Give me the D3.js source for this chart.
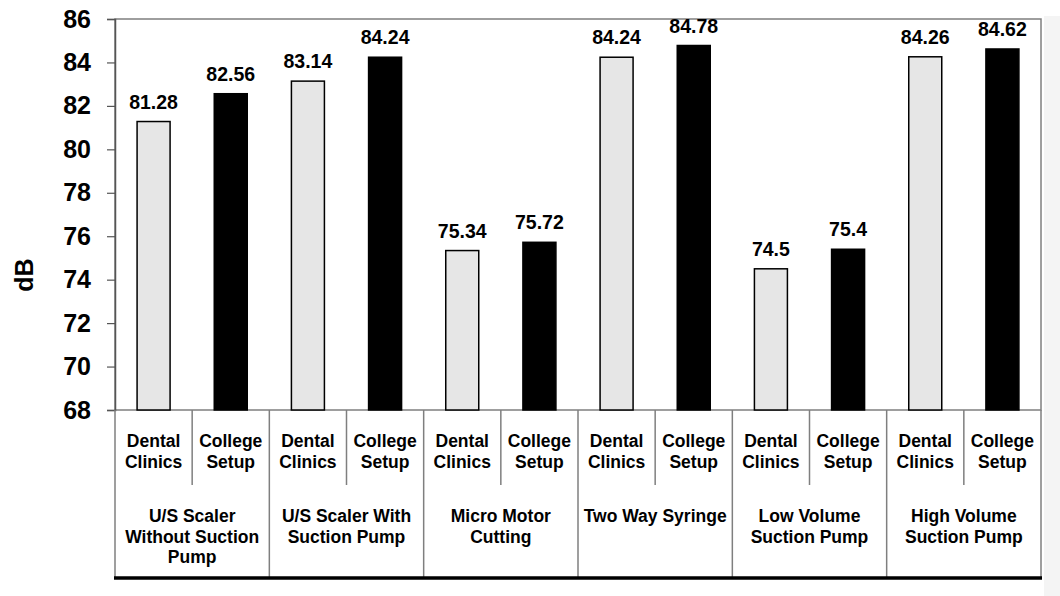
<!DOCTYPE html>
<html>
<head>
<meta charset="utf-8">
<script src="https://cdn.jsdelivr.net/npm/d3@7"></script>
<style>
  body { margin: 0; background: #fff; }
  text { font-family: "Liberation Sans", Arial, sans-serif; font-weight: bold; fill: #000; }
</style>
</head>
<body>
<svg width="1060" height="596"></svg>
<script>
// data
const categories = [
  ["U/S Scaler", "Without Suction", "Pump"],
  ["U/S Scaler With", "Suction Pump"],
  ["Micro Motor", "Cutting"],
  ["Two Way Syringe"],
  ["Low Volume", "Suction Pump"],
  ["High Volume", "Suction Pump"]
];
const groups = ["Dental Clinics", "College Setup"];
const groupLines = [["Dental", "Clinics"], ["College", "Setup"]];
const dentalClinics = [81.28, 83.14, 75.34, 84.24, 74.5, 84.26];
const collegeSetup = [82.56, 84.24, 75.72, 84.78, 75.4, 84.62];
const yTicks = [68, 70, 72, 74, 76, 78, 80, 82, 84, 86];
const colors = ["#e6e6e6", "#000000"];

const margin = {top: 19, right: 19, bottom: 186, left: 115};
const width = 1060 - margin.left - margin.right;
const height = 596 - margin.top - margin.bottom;

const svg = d3.select("svg");

// faint shadow on the right side
svg.append("rect")
  .attr("x", 1044).attr("y", 16).attr("width", 16).attr("height", 580)
  .attr("fill", "#f4f4f4");

const g = svg.append("g").attr("transform", `translate(${margin.left},${margin.top})`);

const x0 = d3.scaleBand().domain(d3.range(categories.length)).range([0, width]);
const x1 = d3.scaleBand().domain(groups).range([0, x0.bandwidth()]);
const y = d3.scaleLinear().domain([68, 86]).range([height, 0]);

// plot frame
g.append("rect")
  .attr("x", 0).attr("y", 0).attr("width", width).attr("height", height)
  .attr("fill", "none").attr("stroke", "#7f7f7f").attr("stroke-width", 1.5);

// y axis
const yAxis = d3.axisLeft(y).tickValues(yTicks).tickSize(8).tickPadding(16).tickFormat(d3.format("d"));
const yG = g.append("g").call(yAxis);
yG.select(".domain").attr("stroke", "#555").attr("stroke-width", 1.5);
yG.selectAll(".tick line").attr("stroke", "#555").attr("stroke-width", 1.2);
yG.selectAll(".tick text")
  .style("font-family", "'Liberation Sans', Arial, sans-serif")
  .style("font-weight", "bold").style("font-size", "25px").attr("fill", "#000");

svg.append("text")
  .attr("transform", "translate(33,275) rotate(-90)")
  .attr("text-anchor", "middle")
  .style("font-size", "25px")
  .text("dB");

// bars
const rows = categories.map((c, i) => groups.map((k, j) => ({
  cat: i, key: k, j: j, value: j === 0 ? dentalClinics[i] : collegeSetup[i]
})));
const barW = 33;

const cg = g.selectAll(".cat").data(rows).join("g")
  .attr("class", "cat")
  .attr("transform", (d, i) => `translate(${x0(i)},0)`);

cg.selectAll("rect").data(d => d).join("rect")
  .attr("x", d => x1(d.key) + x1.bandwidth() / 2 - barW / 2)
  .attr("y", d => y(d.value))
  .attr("width", barW)
  .attr("height", d => y(68) - y(d.value))
  .attr("fill", d => colors[d.j])
  .attr("stroke", "#000").attr("stroke-width", 1.5);

cg.selectAll(".val").data(d => d).join("text")
  .attr("class", "val")
  .attr("x", d => x1(d.key) + x1.bandwidth() / 2)
  .attr("y", d => y(d.value) - 13)
  .attr("text-anchor", "middle")
  .style("font-size", "19.5px")
  .text(d => d.value);

// category table below the plot
const tb = g.append("g").attr("transform", `translate(0,${height})`);
const lineCol = "#7f7f7f";

tb.append("line").attr("x1", 0).attr("x2", 0).attr("y1", 0).attr("y2", 167)
  .attr("stroke", lineCol).attr("stroke-width", 1.5);
tb.append("line").attr("x1", width).attr("x2", width).attr("y1", 0).attr("y2", 167)
  .attr("stroke", lineCol).attr("stroke-width", 1.5);

categories.forEach((c, i) => {
  const cx = x0(i);
  if (i > 0) {
    tb.append("line").attr("x1", cx).attr("x2", cx).attr("y1", 0).attr("y2", 167)
      .attr("stroke", lineCol).attr("stroke-width", 1.5);
  }
  tb.append("line").attr("x1", cx + x1("College Setup")).attr("x2", cx + x1("College Setup"))
    .attr("y1", 0).attr("y2", 75)
    .attr("stroke", lineCol).attr("stroke-width", 1.5);

  groups.forEach((k, j) => {
    const t = tb.append("text")
      .attr("text-anchor", "middle")
      .attr("x", cx + x1(k) + x1.bandwidth() / 2)
      .attr("y", 37)
      .style("font-size", "17.5px");
    groupLines[j].forEach((s, li) => {
      t.append("tspan").attr("x", cx + x1(k) + x1.bandwidth() / 2)
        .attr("dy", li === 0 ? 0 : 20.5).text(s);
    });
  });

  const ct = tb.append("text")
    .attr("text-anchor", "middle")
    .attr("y", 112)
    .style("font-size", "17.5px");
  c.forEach((s, li) => {
    ct.append("tspan").attr("x", cx + x0.bandwidth() / 2)
      .attr("dy", li === 0 ? 0 : 20.5).text(s);
  });
});

tb.append("line").attr("x1", -1).attr("x2", width + 1).attr("y1", 168).attr("y2", 168)
  .attr("stroke", "#000").attr("stroke-width", 3.5);
</script>
</body>
</html>
